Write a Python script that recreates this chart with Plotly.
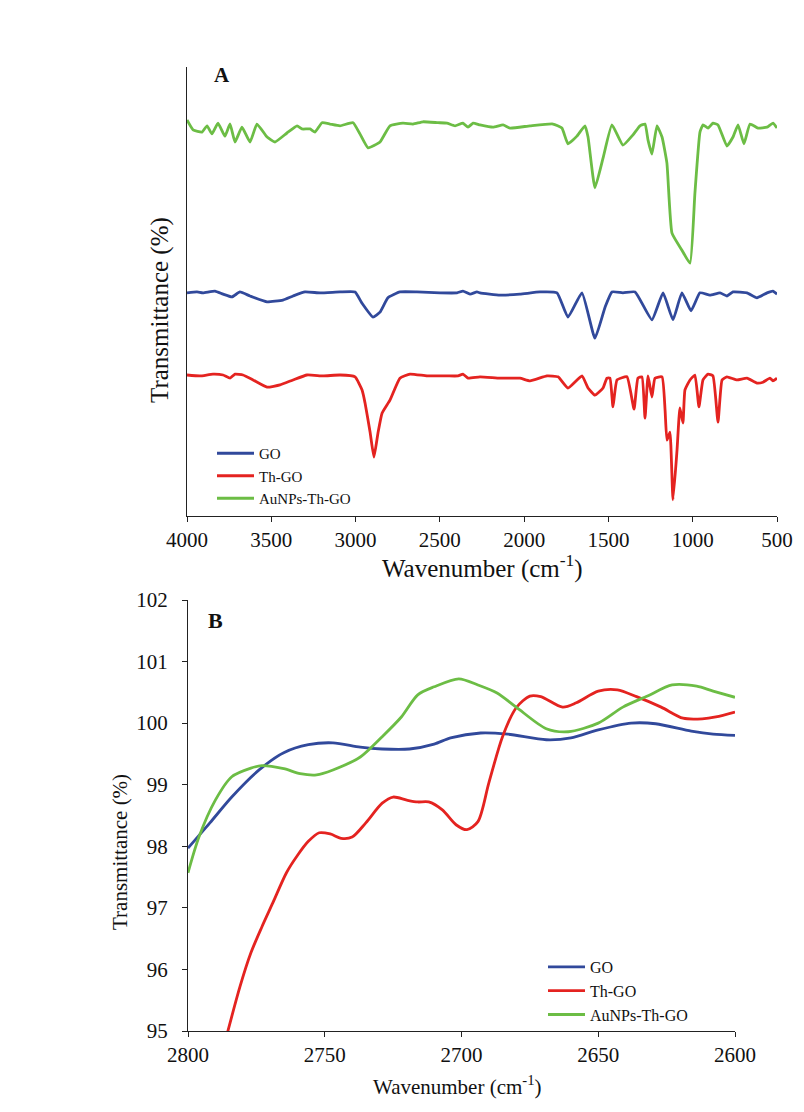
import plotly.graph_objects as go

# ---------------- Panel A: full FTIR spectra (offset, arbitrary units) ----------------
wn_go_a = [4000, 3941, 3905, 3834, 3786, 3733, 3686, 3626, 3525, 3431, 3371, 3300, 3211, 3092,
           3003, 2962, 2897, 2855, 2808, 2737, 2636, 2499, 2398, 2363, 2321, 2280, 2262, 2143,
           2025, 1906, 1805, 1740, 1657, 1580, 1520, 1479, 1414, 1342, 1242, 1176, 1117, 1064,
           1010, 957, 898, 838, 797, 761, 678, 619, 559, 524, 500]
t_go_a = [49.7, 49.9, 49.7, 50.1, 49.4, 48.8, 49.9, 49.0, 47.7, 48.1, 49.0, 49.9, 49.7, 49.9,
          49.9, 47.4, 44.3, 45.4, 48.6, 49.9, 49.9, 49.7, 49.7, 50.1, 49.4, 49.9, 49.7, 49.2,
          49.4, 49.9, 49.7, 44.3, 49.7, 39.6, 46.5, 49.9, 49.7, 49.9, 43.7, 49.7, 43.7, 49.7,
          45.7, 49.7, 49.2, 49.7, 49.0, 49.9, 49.7, 48.6, 49.7, 50.1, 49.4]

wn_th_a = [4000, 3923, 3846, 3786, 3745, 3715, 3668, 3608, 3525, 3448, 3371, 3288, 3193, 3092,
           3003, 2962, 2944, 2914, 2891, 2867, 2843, 2796, 2737, 2677, 2576, 2458, 2392, 2363,
           2333, 2262, 2143, 2025, 1965, 1865, 1799, 1740, 1657, 1621, 1580, 1532, 1509, 1491,
           1473, 1449, 1390, 1348, 1325, 1301, 1283, 1265, 1242, 1224, 1182, 1164, 1153, 1135,
           1117, 1093, 1076, 1058, 1046, 1016, 987, 963, 939, 909, 880, 850, 826, 797, 737,
           678, 619, 583, 542, 524, 500]
t_th_a = [31.4, 31.2, 31.6, 31.4, 30.7, 31.6, 31.4, 30.3, 28.7, 29.2, 30.3, 31.4, 31.2, 31.4,
          31.0, 28.1, 25.2, 18.7, 13.1, 18.5, 22.9, 25.8, 30.7, 31.6, 31.2, 31.2, 31.2, 31.6,
          30.7, 31.0, 30.7, 30.7, 30.1, 31.2, 31.0, 28.5, 31.2, 28.5, 26.9, 28.5, 30.7, 30.7,
          24.3, 30.3, 31.0, 23.8, 30.7, 31.0, 21.8, 31.2, 26.5, 30.7, 31.0, 23.6, 16.9, 18.7,
          3.6, 14.7, 24.1, 20.7, 28.1, 30.3, 31.4, 24.3, 30.3, 31.6, 31.2, 20.9, 30.3, 31.0, 30.3,
          30.7, 29.6, 29.8, 30.7, 30.1, 30.7]

wn_au_a = [4000, 3964, 3911, 3881, 3852, 3816, 3775, 3745, 3715, 3674, 3626, 3585, 3525, 3478,
           3407, 3347, 3318, 3270, 3241, 3199, 3152, 3092, 3015, 2974, 2926, 2855, 2796, 2719,
           2659, 2600, 2511, 2458, 2410, 2363, 2333, 2303, 2262, 2185, 2125, 2084, 1965, 1829,
           1776, 1740, 1687, 1639, 1621, 1580, 1532, 1479, 1414, 1354, 1313, 1283, 1265, 1242,
           1212, 1182, 1153, 1123, 1064, 1016, 987, 957, 939, 909, 880, 850, 797, 761, 731,
           696, 660, 613, 559, 524, 500]
t_au_a = [88.2, 86.0, 85.5, 86.9, 85.1, 87.5, 84.6, 87.3, 83.3, 86.6, 83.3, 87.3, 84.4, 83.3,
          85.3, 86.9, 86.2, 86.2, 85.5, 87.6, 87.3, 86.9, 87.6, 85.1, 82.0, 83.3, 86.9, 87.5,
          87.3, 87.8, 87.6, 87.5, 86.9, 87.5, 86.6, 87.5, 87.1, 86.6, 87.1, 86.4, 86.9, 87.3,
          86.4, 82.9, 84.6, 86.9, 84.4, 73.1, 79.7, 87.1, 82.6, 84.9, 86.9, 87.3, 83.7, 80.6,
          86.9, 84.4, 78.6, 63.0, 59.2, 56.3, 71.9, 85.5, 87.1, 86.4, 87.5, 87.1, 82.4, 84.4, 87.1,
          82.9, 87.3, 86.4, 86.6, 87.5, 86.4]

# ---------------- Panel B: zoom 2800-2600 cm-1 ----------------
wn_go_b = [2800, 2792, 2784, 2774, 2765, 2756, 2747, 2737, 2729, 2719, 2710, 2704, 2693,
           2683, 2669, 2660, 2650, 2638, 2629, 2616, 2608, 2600]
t_go_b = [97.97, 98.38, 98.80, 99.24, 99.52, 99.65, 99.68, 99.61, 99.58, 99.58, 99.66, 99.76,
          99.84, 99.82, 99.73, 99.76, 99.89, 100.00, 99.99, 99.87, 99.82, 99.80]

wn_th_b = [2786, 2781, 2777, 2773, 2769, 2764, 2760, 2756, 2752, 2748, 2744, 2740, 2735, 2729,
           2725, 2720, 2716, 2712, 2707, 2702, 2698, 2694, 2690, 2685, 2680, 2675, 2671, 2663,
           2658, 2650, 2643, 2636, 2627, 2619, 2612, 2607, 2600]
t_th_b = [94.90, 95.72, 96.27, 96.69, 97.08, 97.57, 97.85, 98.08, 98.22, 98.20, 98.13, 98.15,
          98.38, 98.70, 98.80, 98.75, 98.72, 98.72, 98.59, 98.35, 98.27, 98.40, 99.03, 99.78,
          100.25, 100.44, 100.43, 100.26, 100.33, 100.52, 100.54, 100.43, 100.26, 100.08,
          100.07, 100.10, 100.18]

wn_au_b = [2800, 2796, 2790, 2784, 2777, 2773, 2765, 2759, 2753, 2747, 2737, 2729, 2722, 2716,
           2710, 2701, 2694, 2687, 2680, 2669, 2661, 2650, 2641, 2632, 2623, 2614, 2608, 2600]
t_au_b = [97.57, 98.15, 98.75, 99.13, 99.27, 99.31, 99.26, 99.18, 99.16, 99.24, 99.45, 99.78,
          100.10, 100.46, 100.59, 100.72, 100.62, 100.49, 100.26, 99.91, 99.86, 100.00, 100.26,
          100.44, 100.62, 100.60, 100.52, 100.42]

names = ["GO", "Th-GO", "AuNPs-Th-GO"]
colors = ["#31499B", "#E42320", "#6CBD45"]

# page body has an 8px margin; the figure fills the rest of the 804x1112 window
OFF = 8
W, H = 804 - OFF, 1112 - OFF
FONT = "Liberation Serif, Times New Roman, serif"

fig = go.Figure()

a_data = [(wn_go_a, t_go_a), (wn_th_a, t_th_a), (wn_au_a, t_au_a)]
b_data = [(wn_go_b, t_go_b), (wn_th_b, t_th_b), (wn_au_b, t_au_b)]

for (x, y), n, c in zip(a_data, names, colors):
    fig.add_trace(go.Scatter(x=x, y=y, mode="lines", name=n,
                             line=dict(color=c, width=2.8, shape="spline", smoothing=0.4),
                             xaxis="x", yaxis="y", legend="legend"))
for (x, y), n, c in zip(b_data, names, colors):
    fig.add_trace(go.Scatter(x=x, y=y, mode="lines", name=n,
                             line=dict(color=c, width=2.8, shape="spline", smoothing=0.8),
                             xaxis="x2", yaxis="y2", legend="legend2"))


def px_x(p):
    return (p - OFF) / W


def px_y(p):
    return 1 - (p - OFF) / H


axis_common = dict(showgrid=False, zeroline=False, showline=True, linecolor="#222222",
                   linewidth=1.2, ticks="outside", tickcolor="#222222", ticklen=5,
                   automargin=False)


def label(text, x, y, size, angle=0, bold=False):
    return dict(text=f"<b>{text}</b>" if bold else text, x=px_x(x), y=px_y(y),
                xref="paper", yref="paper", xanchor="center", yanchor="middle",
                textangle=angle, showarrow=False, font=dict(size=size, family=FONT))


fig.update_layout(
    width=W, height=H,
    margin=dict(l=0, r=0, t=0, b=0, pad=0, autoexpand=False),
    paper_bgcolor="white", plot_bgcolor="white",
    font=dict(family=FONT, color="#111111"),
    showlegend=True,
    xaxis=dict(domain=[px_x(187), px_x(777)], anchor="y", range=[4000, 500],
               dtick=500, tick0=500, tickfont=dict(size=21), **axis_common),
    yaxis=dict(domain=[px_y(516), px_y(67)], anchor="x", range=[0, 100],
               showticklabels=False, **{**axis_common, "ticks": ""}),
    xaxis2=dict(domain=[px_x(188), px_x(735)], anchor="y2", range=[2800, 2600],
                dtick=50, tick0=2600, tickfont=dict(size=21), **axis_common),
    yaxis2=dict(domain=[px_y(1031), px_y(600)], anchor="x2", range=[95, 102],
                dtick=1, tickfont=dict(size=21), ticklabelstandoff=10, **axis_common),
    legend=dict(x=px_x(212), y=px_y(437), xanchor="left", yanchor="top",
                font=dict(size=15), bgcolor="rgba(0,0,0,0)", tracegroupgap=0,
                itemwidth=37, itemclick=False),
    legend2=dict(x=px_x(543), y=px_y(950), xanchor="left", yanchor="top",
                 font=dict(size=16), bgcolor="rgba(0,0,0,0)", tracegroupgap=0,
                 itemwidth=37, itemclick=False),
    annotations=[
        label("A", 222, 75, 21, bold=True),
        label("B", 215, 620, 22, bold=True),
        label("Wavenumber (cm<sup>-1</sup>)", 482, 566, 25),
        label("Transmittance (%)", 160, 310, 25, angle=-90),
        label("Wavenumber (cm<sup>-1</sup>)", 458, 1085, 21),
        label("Transmittance (%)", 120, 852, 21, angle=-90),
    ],
)

fig.write_html("out.html")
